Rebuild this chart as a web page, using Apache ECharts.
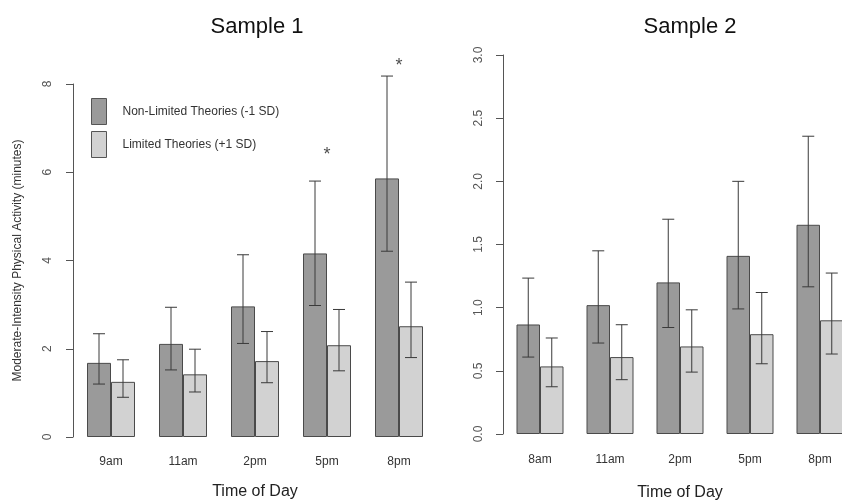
<!doctype html>
<html>
<head>
	<meta charset="UTF-8">
	<title>Sample 1 / Sample 2</title>
	<script src="https://cdn.jsdelivr.net/npm/echarts@6/dist/echarts.min.js"></script>
	<style>
		html, body { margin: 0; padding: 0; background: #fff; }
		#chart { width: 842px; height: 500px; }
	</style>
</head>
<body>
	<div id="chart"></div>
	<script type="text/javascript">
		// Sample 1
		var times1 = ['9am', '11am', '2pm', '5pm', '8pm'];
		var nonLimited1 = [1.68, 2.11, 2.96, 4.16, 5.86];
		var nonLimited1Low = [1.20, 1.52, 2.12, 2.98, 4.21];
		var nonLimited1High = [2.34, 2.94, 4.13, 5.80, 8.18];
		var limited1 = [1.25, 1.42, 1.72, 2.08, 2.51];
		var limited1Low = [0.90, 1.02, 1.23, 1.50, 1.80];
		var limited1High = [1.75, 1.99, 2.39, 2.89, 3.51];
		var stars1 = [null, null, null, 6.4, 8.4];

		// Sample 2
		var times2 = ['8am', '11am', '2pm', '5pm', '8pm'];
		var nonLimited2 = [0.867, 1.02, 1.20, 1.41, 1.656];
		var nonLimited2Low = [0.609, 0.72, 0.843, 0.99, 1.165];
		var nonLimited2High = [1.234, 1.45, 1.70, 2.00, 2.357];
		var limited2 = [0.535, 0.609, 0.693, 0.79, 0.90];
		var limited2Low = [0.374, 0.43, 0.49, 0.556, 0.633];
		var limited2High = [0.76, 0.865, 0.983, 1.12, 1.274];

		var darkGray = '#9a9a9a';
		var lightGray = '#d2d2d2';
		var fontFam = 'Liberation Sans, Arial, sans-serif';

		function pairs(low, high) {
			var out = [];
			for (var i = 0; i < low.length; i++) {
				out.push([i, low[i], high[i]]);
			}
			return out;
		}

		// error bar with caps, shifted to the bar's centre
		function errorBar(barW, shift) {
			return function(params, api) {
				var lo = api.coord([api.value(0), api.value(1)]);
				var hi = api.coord([api.value(0), api.value(2)]);
				var x = lo[0] + shift * barW / 2;
				var cap = 6;
				var st = { stroke: '#3a3a3a', lineWidth: 1 };
				return {
					type: 'group',
					children: [
						{ type: 'line', shape: { x1: x, y1: lo[1], x2: x, y2: hi[1] }, style: st },
						{ type: 'line', shape: { x1: x - cap, y1: lo[1], x2: x + cap, y2: lo[1] }, style: st },
						{ type: 'line', shape: { x1: x - cap, y1: hi[1], x2: x + cap, y2: hi[1] }, style: st }
					]
				};
			};
		}

		var starData = [];
		for (var s = 0; s < stars1.length; s++) {
			if (stars1[s] != null) starData.push([s, stars1[s]]);
		}

		var bw1 = 24, bw2 = 23.5;

		function barSeries(name, data, color, idx, bw) {
			return {
				name: name,
				type: 'bar',
				xAxisIndex: idx,
				yAxisIndex: idx,
				data: data,
				barWidth: bw,
				barGap: '0%',
				itemStyle: { color: color, borderColor: '#4a4a4a', borderWidth: 1 },
				silent: true
			};
		}

		function yAxisCfg(idx, max, interval, margin, fmt) {
			return {
				type: 'value',
				gridIndex: idx,
				min: 0,
				max: max,
				interval: interval,
				offset: 2,
				splitLine: { show: false },
				axisLine: { show: true, lineStyle: { color: '#555', width: 1 } },
				axisTick: { show: true, length: 7, lineStyle: { color: '#555' } },
				axisLabel: {
					rotate: 90, margin: margin, color: '#555', fontSize: 12, fontFamily: fontFam,
					formatter: fmt
				}
			};
		}

		function xAxisCfg(idx, cats, gap, margin) {
			return {
				type: 'category',
				gridIndex: idx,
				data: cats,
				axisLine: { show: false },
				axisTick: { show: false },
				axisLabel: { margin: margin, color: '#333', fontSize: 12, fontFamily: fontFam },
				name: 'Time of Day',
				nameLocation: 'middle',
				nameGap: gap,
				nameTextStyle: { fontSize: 16, color: '#222', fontFamily: fontFam }
			};
		}

		var option = {
			backgroundColor: '#fff',
			animation: false,
			title: [{
				text: 'Sample 1', left: 252, top: 11, textAlign: 'center',
				textStyle: { fontSize: 22, fontWeight: 'normal', color: '#111', fontFamily: fontFam }
			}, {
				text: 'Sample 2', left: 685, top: 11, textAlign: 'center',
				textStyle: { fontSize: 22, fontWeight: 'normal', color: '#111', fontFamily: fontFam }
			}],
			legend: {
				left: 91, top: 98,
				padding: 0,
				orient: 'vertical',
				icon: 'rect',
				itemWidth: 15,
				itemHeight: 26,
				itemGap: 6,
				data: ['Non-Limited Theories (-1 SD)', 'Limited Theories (+1 SD)'],
				itemStyle: { borderColor: '#555', borderWidth: 1 },
				textStyle: { fontSize: 12, color: '#333', fontFamily: fontFam, padding: [3, 0, 0, 11] }
			},
			grid: [
				{ left: 75, width: 360, top: 84, height: 353, outerBoundsMode: 'none', containLabel: false },
				{ left: 505, width: 350, top: 55, height: 379, outerBoundsMode: 'none', containLabel: false }
			],
			xAxis: [xAxisCfg(0, times1, 47, 19), xAxisCfg(1, times2, 51, 20)],
			yAxis: [
				Object.assign(yAxisCfg(0, 8, 2, 19, function(v) { return v; }), {
					name: 'Moderate-Intensity Physical Activity (minutes)',
					nameLocation: 'middle',
					nameRotate: 90,
					nameGap: 49,
					nameTextStyle: { fontSize: 12, color: '#333', fontFamily: fontFam }
				}),
				yAxisCfg(1, 3, 0.5, 18, function(v) { return v.toFixed(1); })
			],
			series: [
				barSeries('Non-Limited Theories (-1 SD)', nonLimited1, darkGray, 0, bw1),
				barSeries('Limited Theories (+1 SD)', limited1, lightGray, 0, bw1),
				barSeries('Non-Limited Theories (-1 SD)', nonLimited2, darkGray, 1, bw2),
				barSeries('Limited Theories (+1 SD)', limited2, lightGray, 1, bw2),
				{
					type: 'custom', xAxisIndex: 0, yAxisIndex: 0, clip: false, silent: true,
					renderItem: errorBar(bw1, -1), data: pairs(nonLimited1Low, nonLimited1High), z: 5
				},
				{
					type: 'custom', xAxisIndex: 0, yAxisIndex: 0, clip: false, silent: true,
					renderItem: errorBar(bw1, 1), data: pairs(limited1Low, limited1High), z: 5
				},
				{
					type: 'custom', xAxisIndex: 1, yAxisIndex: 1, clip: false, silent: true,
					renderItem: errorBar(bw2, -1), data: pairs(nonLimited2Low, nonLimited2High), z: 5
				},
				{
					type: 'custom', xAxisIndex: 1, yAxisIndex: 1, clip: false, silent: true,
					renderItem: errorBar(bw2, 1), data: pairs(limited2Low, limited2High), z: 5
				},
				{
					type: 'scatter', xAxisIndex: 0, yAxisIndex: 0, clip: false, silent: true,
					symbolSize: 1,
					itemStyle: { color: 'rgba(0,0,0,0)' },
					data: starData,
					label: {
						show: true, position: 'inside', formatter: '*',
						fontSize: 18, color: '#222', fontFamily: fontFam
					}
				}
			]
		};

		var chart = echarts.init(document.getElementById('chart'));
		chart.setOption(option);
	</script>
</body>
</html>
